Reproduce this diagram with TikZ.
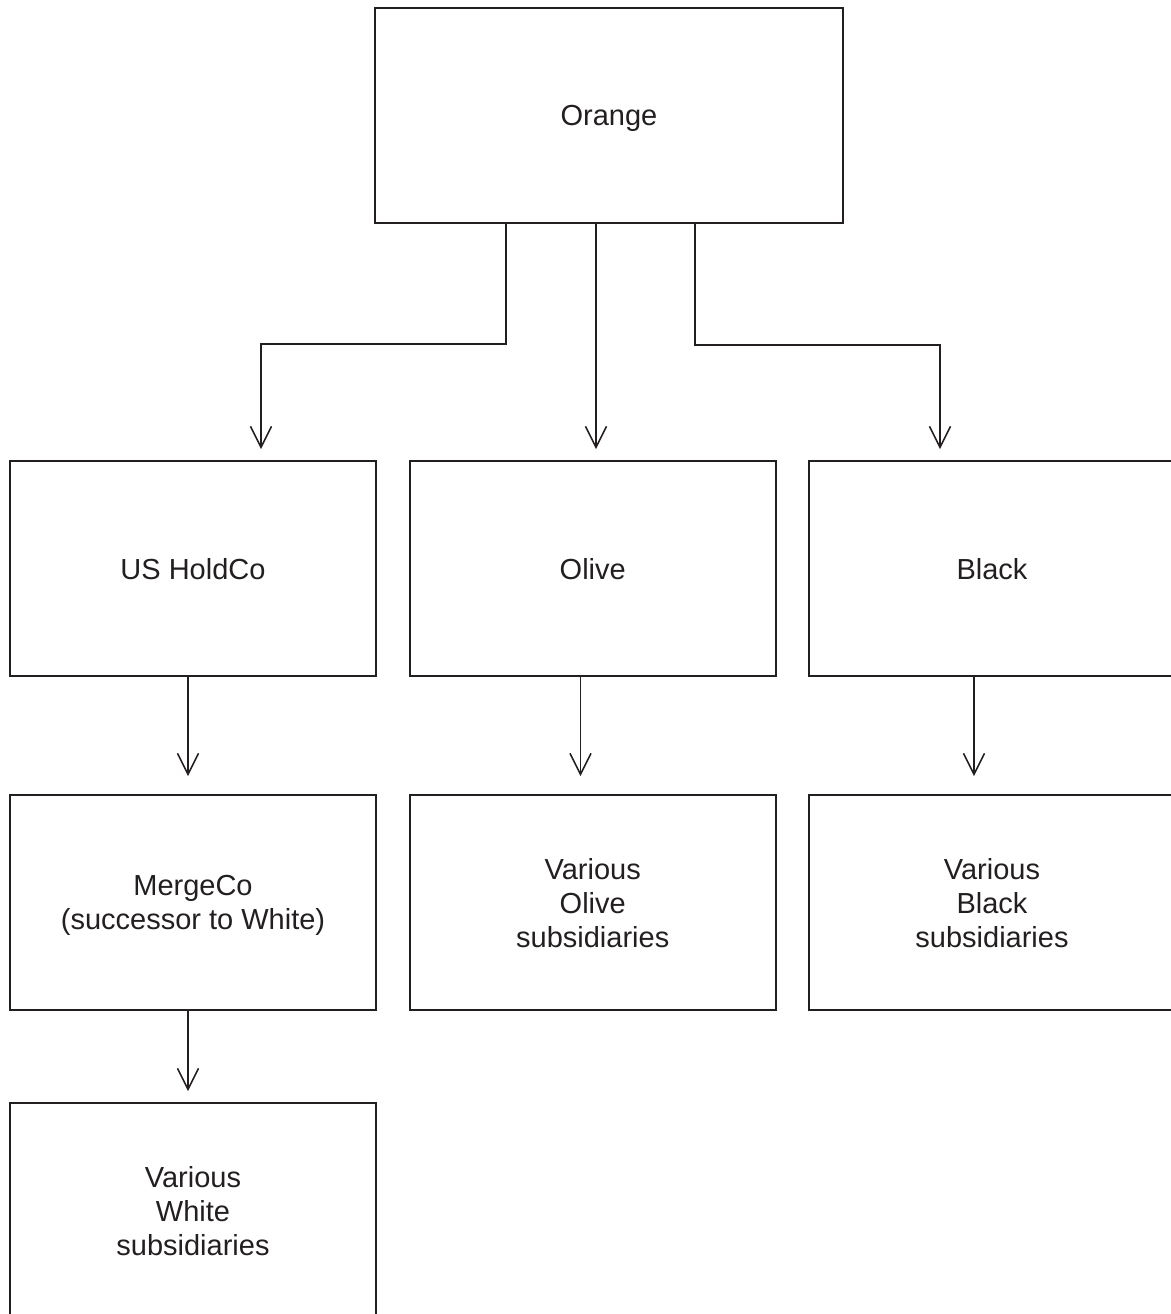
\documentclass[tikz,border=0pt]{standalone}
\usepackage{fontspec}
\setmainfont{Liberation Sans}
\usepackage{tikz}
\usetikzlibrary{arrows.meta,calc}
\usepackage{xcolor}
\definecolor{ctrait}{RGB}{35,31,32}

\begin{document}
\begin{tikzpicture}[x=0.5pt, y=-0.5pt,
  boite/.style={draw=ctrait, line width=1pt, text=ctrait, align=center,
    minimum width=183pt, minimum height=107.5pt, inner sep=0pt,
    text depth=0pt, font=\fontsize{14.5pt}{17pt}\selectfont},
  fleche/.style={draw=ctrait, line width=0.75pt,
    -{Straight Barb[length=10.5pt,width=10.5pt]}}]
\useasboundingbox (0,0) rectangle (1171,1314);
\clip (0,0) rectangle (1171,1314);
% sommet
\node[boite, minimum width=234pt] (orange) at (609,115.5) {Orange};
% niveau 2
\node[boite] (usholdco) at (193,568.5) {US HoldCo};
\node[boite] (olive) at (592.75,568.5) {Olive};
\node[boite] (black) at (992,568.5) {Black};
% niveau 3
\node[boite] (mergeco) at (193,902.5) {MergeCo\\(successor to White)};
\node[boite] (varolive) at (592.75,902.5) {Various\\Olive\\subsidiaries};
\node[boite] (varblack) at (992,902.5) {Various\\Black\\subsidiaries};
% niveau 4
\node[boite] (varwhite) at (193,1210.5) {Various\\White\\subsidiaries};
% fleches depuis Orange
\draw[fleche, shorten >=5.5pt] ($(orange.south)+(-103,0)$) -- ++(0,120)
  -| ($(usholdco.north)+(68,0)$);
\draw[fleche, shorten >=5.5pt] ($(orange.south)+(-13,0)$)
  -- ($(olive.north)+(3.25,0)$);
\draw[fleche, shorten >=5.5pt] ($(orange.south)+(86,0)$) -- ++(0,121)
  -| ($(black.north)+(-52,0)$);
% fleches verticales
\draw[fleche, shorten >=9pt] ($(usholdco.south)+(-5,0)$)
  -- ($(mergeco.north)+(-5,0)$);
\draw[fleche, shorten >=9pt] ($(olive.south)+(-12.25,0)$)
  -- ($(varolive.north)+(-12.25,0)$);
\draw[fleche, shorten >=9pt] ($(black.south)+(-18,0)$)
  -- ($(varblack.north)+(-18,0)$);
\draw[fleche, shorten >=5.5pt] ($(mergeco.south)+(-5,0)$)
  -- ($(varwhite.north)+(-5,0)$);
\end{tikzpicture}
\end{document}
